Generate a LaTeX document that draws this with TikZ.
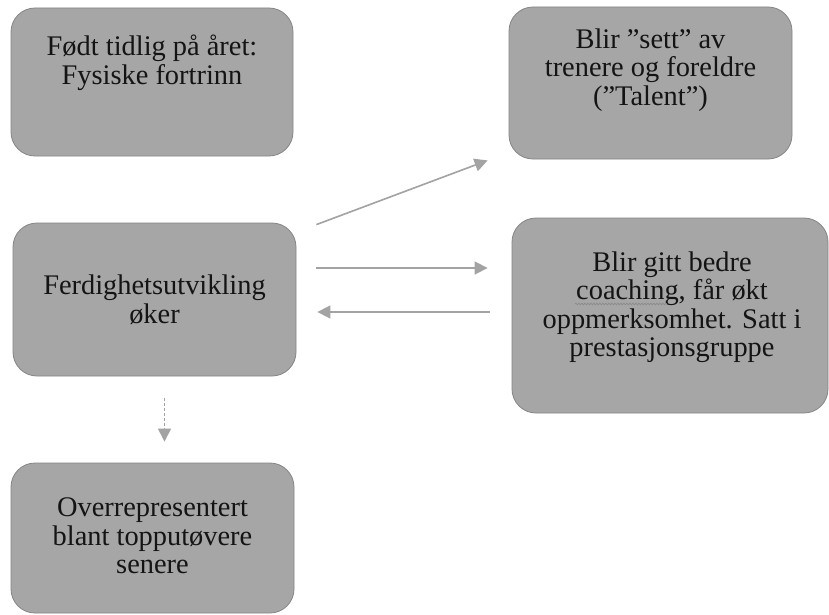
\documentclass[tikz,border=0pt]{standalone}
\usepackage{fontspec}
\setmainfont{Liberation Serif}
\usetikzlibrary{arrows.meta,decorations.pathmorphing,calc}
\definecolor{boxfill}{HTML}{A6A6A6}
\definecolor{boxline}{HTML}{858585}
\definecolor{arrgray}{HTML}{A3A3A3}
\begin{document}
\begin{tikzpicture}[x=1pt,y=-1pt,
  box/.style={draw=boxline,line width=0.8pt,fill=boxfill,rounded corners=24pt,inner sep=0pt,rectangle},
  lbl/.style={font=\fontsize{28.4pt}{28.5pt}\selectfont,align=center,inner sep=0pt,text=black!92},
  arr/.style={draw=arrgray,line width=1.6pt,-{Triangle[length=13pt,width=13pt]}},
  darr/.style={arr,line width=1pt,dash pattern=on 3pt off 2pt}]
\fill[white] (0,0) rectangle (829,615);
\useasboundingbox (0,0) rectangle (829,615);
% boxes
\node[box,minimum width=282pt,minimum height=148pt] (b1) at (152,82) {};
\node[box,minimum width=283pt,minimum height=152pt] (b2) at (650.5,83) {};
\node[box,minimum width=283pt,minimum height=153pt] (b3) at (154.5,299.5) {};
\node[box,minimum width=316pt,minimum height=195pt] (b4) at (670,315.5) {};
\node[box,minimum width=283pt,minimum height=150pt] (b5) at (152.5,538) {};
% labels
\node[lbl] (l1) at (152,63) {Født tidlig på året:\\Fysiske fortrinn};
\node[lbl] (l2) at (650.5,70) {Blir ”sett” av\\trenere og foreldre\\(”Talent”)};
\node[lbl] (l3) at (154.5,299.5) {Ferdighetsutvikling\\øker};
\node[lbl] (l4) at (672,307) {Blir gitt bedre\\coaching, får økt\\oppmerksomhet. Satt i\\prestasjonsgruppe};
\node[lbl] (l5) at (152.5,536) {Overrepresentert\\blant topputøvere\\senere};
% spell-check squiggle
\draw[arrgray!85!black,line width=0.7pt,decorate,decoration={snake,amplitude=0.8pt,segment length=3pt}] (575,304) -- (667,304);
% connectors
\draw[arr] ($(b3.north east)+(20pt,-2pt)$) -- ($(b2.south west)+(-21pt,-1pt)$);
\draw[arr] ($(b3.east)+(20pt,31.5pt)$) -- ($(b4.west |- b3.east)+(-24pt,31.5pt)$);
\draw[arr] ($(b4.west)+(-22pt,3.5pt)$) -- ($(b3.east |- b4.west)+(21pt,3.5pt)$);
\draw[darr] ($(b3.south)+(10pt,-22pt)$) -- ($(b3.south |- b5.north)+(10pt,21pt)$);
\end{tikzpicture}
\end{document}
